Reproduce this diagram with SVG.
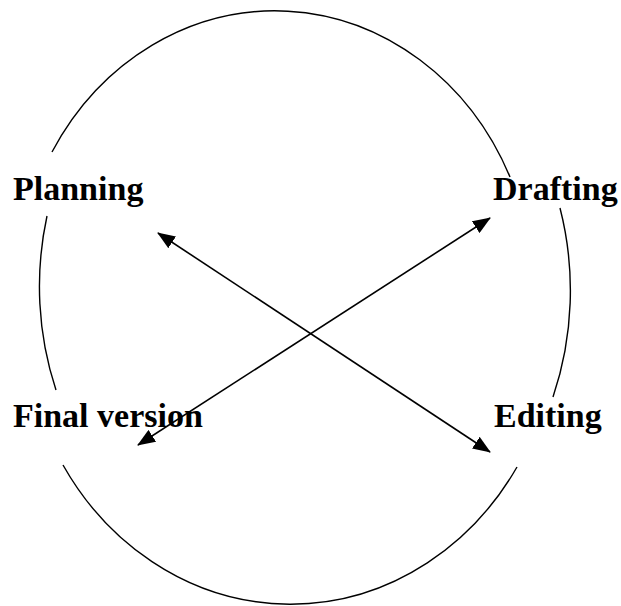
<svg xmlns="http://www.w3.org/2000/svg" width="621" height="606" viewBox="0 0 621 606">
  <style>
    .ring { fill: none; stroke: #000; stroke-width: 1.4; }
    .label { font-family: "Liberation Serif", "Times New Roman", serif; font-weight: bold; font-size: 34px; fill: #000; }
    .link { stroke: #000; stroke-width: 1.6; fill: none; marker-start: url(#head); marker-end: url(#head); }
  </style>
  <defs>
    <marker id="head" viewBox="0 0 18 14" refX="17" refY="7" markerWidth="18" markerHeight="14" markerUnits="userSpaceOnUse" orient="auto-start-reverse">
      <path d="M0,0 L18,7 L0,14 z" fill="#000"/>
    </marker>
  </defs>
  <rect width="621" height="606" fill="#fff"/>

  <!-- ring of the cycle, broken where the stage labels sit -->
  <g id="cycle">
    <path class="ring" d="M52,152 A259,287 0 0 1 510,177"/>
    <path class="ring" d="M560,208 A268,300 0 0 1 553,397"/>
    <path class="ring" d="M517,467 A268,295 0 0 1 63,465"/>
    <path class="ring" d="M47,216 A270,300 0 0 0 56,390"/>
  </g>

  <g id="planning">
    <text class="label" x="13" y="200">Planning</text>
  </g>
  <g id="drafting">
    <text class="label" x="493" y="200">Drafting</text>
  </g>
  <g id="final-version">
    <text class="label" x="13" y="427">Final version</text>
  </g>
  <g id="editing">
    <text class="label" x="494" y="427">Editing</text>
  </g>

  <g id="connectors">
    <line class="link" x1="158" y1="233" x2="490" y2="452"/>
    <line class="link" x1="490" y1="218" x2="138" y2="445"/>
  </g>
</svg>
